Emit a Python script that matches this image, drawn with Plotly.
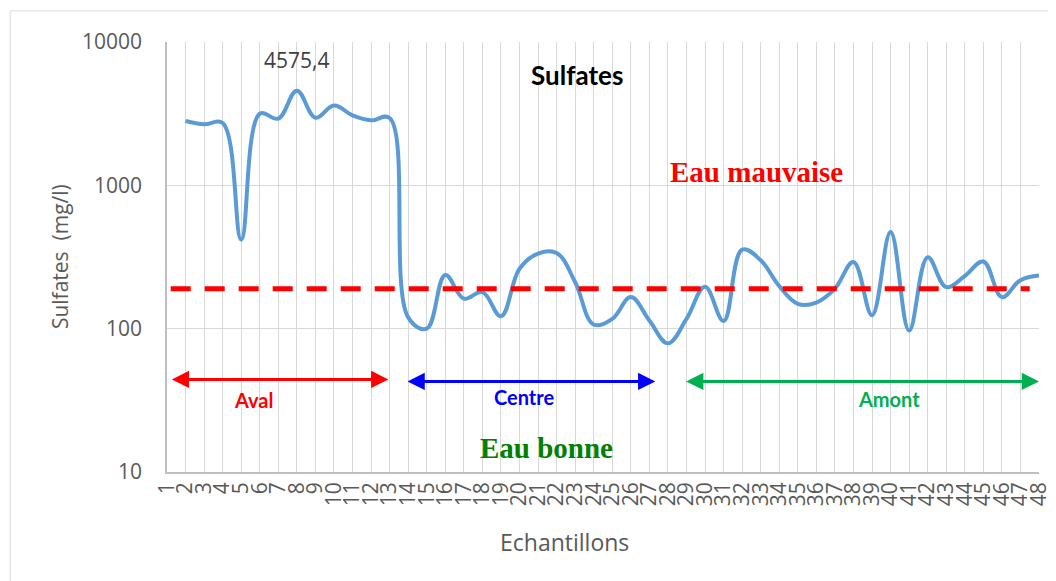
import plotly.graph_objects as go

# données (échantillons 2 à 48)
echantillons = list(range(2, 49))
sulfates = [2810, 2665, 2720, 418, 3160, 2920, 4575.4, 2965, 3610, 3076, 2840, 2950,
            120, 100, 237, 162, 180, 122, 262, 334, 337, 211, 107, 117, 166, 114, 79,
            117, 196, 113, 356, 300, 198, 149, 152, 190, 292, 124, 472, 97, 315, 195,
            233, 294, 166, 218, 235]
etiquettes_x = [str(i) for i in range(1, 49)]
graduations_y = [10, 100, 1000, 10000]
seuil = 190
seuil_x = [1.2, 47.5]

# zones (début, fin, hauteur flèche, texte, couleur, position du texte)
zones = [
    (1.18, 12.93, 1.646, "Aval", "#ff0000", 5.66, 1.50),
    (13.88, 27.32, 1.632, "Centre", "#0000ff", 20.23, 1.523),
    (28.9, 48.0, 1.632, "Amont", "#00b050", 39.93, 1.511),
]

gris = "#595959"
grille = "#d9d9d9"

fig = go.Figure()
fig.add_trace(go.Scatter(x=echantillons, y=sulfates, mode="lines",
                         line=dict(color="#5b9bd5", width=4, shape="spline", smoothing=1.1)))
fig.add_trace(go.Scatter(x=seuil_x, y=[seuil, seuil], mode="lines",
                         line=dict(color="#ff0000", width=5, dash="20px,14px")))

annotations = []
for x0, x1, ya, txt, col, xt, yt in zones:
    annotations.append(dict(x=x1, y=ya, ax=x0, ay=ya, xref="x", yref="y", axref="x", ayref="y",
                            text="", showarrow=True, arrowhead=2, startarrowhead=2,
                            arrowside="end+start", arrowwidth=3, arrowsize=1.15, startarrowsize=1.15,
                            arrowcolor=col, standoff=0, startstandoff=0))
    annotations.append(dict(x=xt, y=yt, xref="x", yref="y", text=txt, showarrow=False,
                            font=dict(family="Lato", size=20, color=col, weight="bold")))

annotations += [
    dict(x=8.0, y=3.877, xref="x", yref="y", text="4575,4", showarrow=False,
         font=dict(family="Open Sans", size=21, color="#404040")),
    dict(x=23.09, y=3.773, xref="x", yref="y", text="<b>Sulfates</b>", showarrow=False,
         font=dict(family="Lato", size=26, color="#000000")),
    dict(x=32.76, y=3.093, xref="x", yref="y", text="<b>Eau mauvaise</b>", showarrow=False,
         font=dict(family="Liberation Serif", size=29, color="#ff0000")),
    dict(x=21.45, y=1.165, xref="x", yref="y", text="<b>Eau bonne</b>", showarrow=False,
         font=dict(family="Liberation Serif", size=29, color="#008000")),
    dict(x=0.456, y=-0.1636, xref="paper", yref="paper", text="Echantillons", showarrow=False,
         xanchor="center", yanchor="middle", font=dict(family="Open Sans", size=23, color=gris)),
    dict(x=-0.1226, y=0.5, xref="paper", yref="paper", text="Sulfates\u00a0 (mg/l)", showarrow=False,
         xanchor="center", yanchor="middle", textangle=-90,
         font=dict(family="Open Sans", size=21, color=gris)),
]

shapes = [
    # fond blanc du titre
    dict(type="rect", xref="paper", yref="paper", x0=0.3929, x1=0.5647, y0=0.8731, y1=0.9953,
         fillcolor="white", line=dict(width=0), layer="between"),
    # cadre du graphique
    dict(type="rect", xref="paper", yref="paper", x0=-0.1799, x1=1.03, y0=-0.3, y1=1.0724,
         fillcolor="rgba(0,0,0,0)", line=dict(color=grille, width=1)),
]

fig.update_layout(
    width=1056, height=581,
    margin=dict(l=159, r=16, t=34, b=117),
    plot_bgcolor="white", paper_bgcolor="white",
    showlegend=False,
    annotations=annotations,
    shapes=shapes,
    font=dict(family="Open Sans", color=gris),
)
fig.update_xaxes(range=[1, 48], tickmode="array", tickvals=list(range(1, 49)), ticktext=etiquettes_x,
                 tickangle=-90, tickfont=dict(size=21, color=gris), showgrid=True, gridcolor=grille,
                 gridwidth=1.3, showline=True, linecolor="#bfbfbf", linewidth=1.5, zeroline=False)
fig.update_yaxes(type="log", range=[1, 4], tickmode="array", tickvals=graduations_y,
                 ticktext=[str(v) for v in graduations_y], tickfont=dict(size=21, color=gris),
                 ticklabelstandoff=19, showgrid=True, gridcolor=grille, gridwidth=1.3,
                 showline=True, linecolor="#bfbfbf", linewidth=1.5, zeroline=False)

fig.write_html("out.html")
